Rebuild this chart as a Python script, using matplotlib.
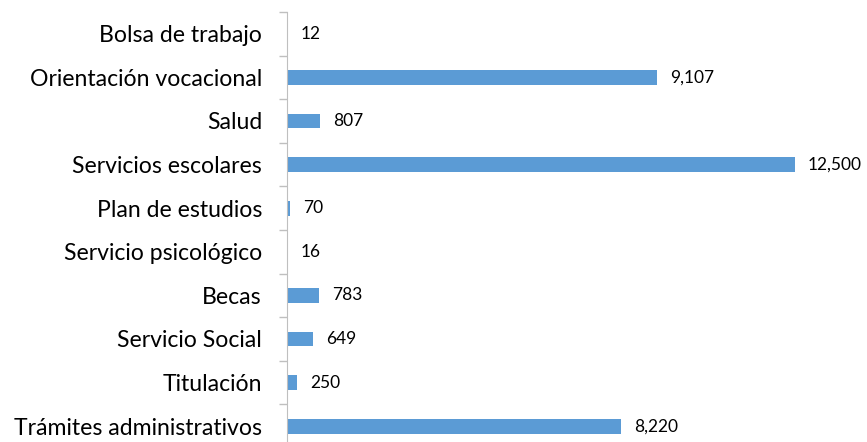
import matplotlib
matplotlib.use("Agg")
import matplotlib.pyplot as plt
import numpy as np

categories = ["Bolsa de trabajo", "Orientación vocacional", "Salud", "Servicios escolares",
              "Plan de estudios", "Servicio psicológico", "Becas", "Servicio Social",
              "Titulación", "Trámites administrativos"]
values = [12, 9107, 807, 12500, 70, 16, 783, 649, 250, 8220]

plt.rcParams['font.family'] = ['Lato', 'DejaVu Sans']

W, H = 867, 442
fig = plt.figure(figsize=(W/100, H/100), dpi=100)
left, right = 287, 856
top, bottom = 12, 448
ax = fig.add_axes([left/W, (H-bottom)/H, (right-left)/W, (bottom-top)/H])

n = len(categories)
y = np.arange(n)
ax.barh(y, values, height=0.34, color="#5B9BD5")
ax.set_ylim(n-0.5, -0.5)
ax.set_xlim(0, 14000)

ax.set_yticks(y)
ax.set_yticklabels(categories, fontsize=16.6)
ax.tick_params(axis='y', which='major', length=0, pad=18)
ax.set_yticks(np.arange(-0.5, n, 1), minor=True)
ax.tick_params(axis='y', which='minor', length=6, color="#BFBFBF", width=1)
ax.set_xticks([])
for s in ["top", "right", "bottom"]:
    ax.spines[s].set_visible(False)
ax.spines["left"].set_color("#BFBFBF")

for yi, v in zip(y, values):
    ax.annotate(f"{v:,}", (v, yi), xytext=(13, 0), textcoords="offset pixels",
                va="center", ha="left", fontsize=12.5, color="black")

fig.savefig("out.png", dpi=100)
